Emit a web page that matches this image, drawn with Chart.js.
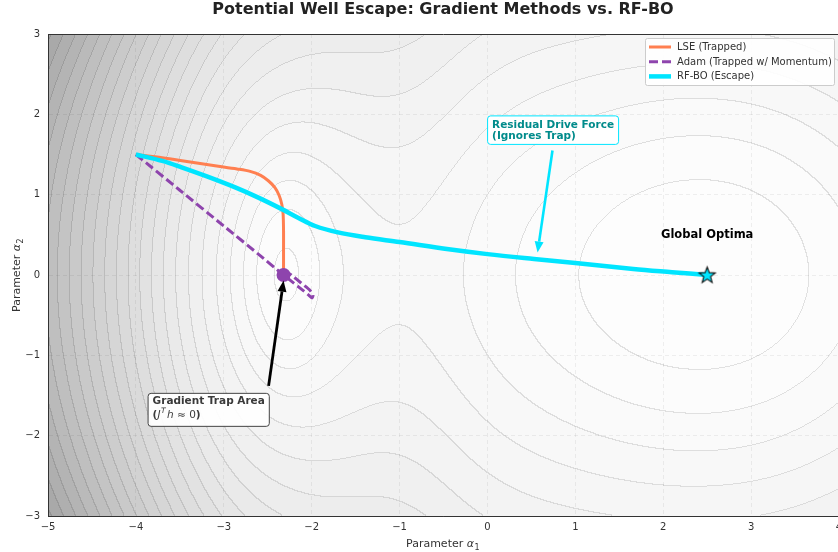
<!DOCTYPE html>
<html>
<head>
<meta charset="utf-8">
<script src="https://cdn.jsdelivr.net/npm/chart.js@4.4.1/dist/chart.umd.min.js"></script>
<style>
  html, body { margin: 0; padding: 0; background: #ffffff; overflow: hidden; width: 838px; height: 552px; }
  #wrap { width: 848px; height: 552px; position: relative; }
</style>
</head>
<body>
<div id="wrap"><canvas id="c" width="848" height="552"></canvas></div>
<script>
// ---------------- data ----------------
const seriesLabels = ["LSE (Trapped)", "Adam (Trapped w/ Momentum)", "RF-BO (Escape)"];

const lseX = [-4, -3.7, -3.4, -3.1, -2.85, -2.7, -2.58, -2.49, -2.42, -2.37, -2.34, -2.325, -2.32, -2.32, -2.32];
const lseY = [1.5, 1.46, 1.41, 1.36, 1.32, 1.29, 1.24, 1.17, 1.09, 0.99, 0.88, 0.76, 0.55, 0.3, 0.0];

const adamX = [-4, -3.5, -3.0, -2.6, -2.32, -2.15, -2.04, -1.995, -1.985, -2.02, -2.12, -2.22, -2.28, -2.32];
const adamY = [1.5, 1.055, 0.61, 0.254, 0.0, -0.147, -0.244, -0.285, -0.25, -0.19, -0.10, -0.01, 0.035, 0.0];

const rfboX = [-4, -3.7, -3.48, -3.2, -2.87, -2.6, -2.34, -2.15, -1.96, -1.7, -1.39, -1.0, -0.44, 0.0, 0.53, 1.0, 1.66, 2.1, 2.5];
const rfboY = [1.5, 1.42, 1.34, 1.23, 1.09, 0.96, 0.82, 0.71, 0.61, 0.53, 0.47, 0.41, 0.32, 0.26, 0.20, 0.15, 0.075, 0.035, 0.0];

const xTickValues = [-5, -4, -3, -2, -1, 0, 1, 2, 3, 4];
const yTickValues = [-3, -2, -1, 0, 1, 2, 3];

// background potential landscape (features): [cx, cy, amplitude, sx, sy]
const wells = [
  [2.5, 0.0, -0.45, 2.0, 2.0],    // global optimum basin
  [-2.32, 0.0, -0.22, 0.33, 0.9], // narrow local trap
  [-2.3, 0.0, -0.16, 1.0, 1.5],   // broad shoulder of the trap
  [-1.0, 0.0, 0.10, 0.6, 1e6]     // ridge / saddle between the basins
];
const contourStep = 0.1;

// annotations
const annGlobal = { text: "Global Optima", x: 2.5, y: 0.5 };
const annResidual = { lines: ["Residual Drive Force", "(Ignores Trap)"], x: 0.053, y: 1.80, from: [0.74, 1.55], to: [0.57, 0.28] };
const annTrap = { line1: "Gradient Trap Area", x: -3.81, y: -1.66, from: [-2.49, -1.38], to: [-2.32, -0.07] };

const COLORS = { lse: "#FF7F50", adam: "#8E44AD", rfbo: "#00E5FF" };
const FONT = "'DejaVu Sans', 'Liberation Sans', sans-serif";

// ---------------- helpers ----------------
const zip = (xs, ys) => xs.map((x, i) => ({ x: x, y: ys[i] }));
const sigm = z => 1 / (1 + Math.exp(-z));

function potential(x, y) {
  const k = 3, x0 = -3.0;
  let v = 0.72 * Math.log(1 + Math.exp(-(x - x0) * k)) / k;
  v += 0.08 * Math.log(1 + Math.exp((x - 3.5) * 2)) / 2;
  v += y * y * (0.02 + 0.03 * sigm(-(x + 2) * 1.5));
  for (const w of wells) {
    v += w[2] * Math.exp(-(((x - w[0]) ** 2) / (2 * w[3] * w[3]) + ((y - w[1]) ** 2) / (2 * w[4] * w[4])));
  }
  return v;
}

function makeStar(r) {
  const c = document.createElement("canvas");
  const s = Math.ceil(r * 2 + 4);
  c.width = s; c.height = s;
  const g = c.getContext("2d");
  const cx = s / 2, cy = s / 2 + 0.5;
  g.beginPath();
  for (let i = 0; i < 10; i++) {
    const a = -Math.PI / 2 + i * Math.PI / 5;
    const rr = i % 2 === 0 ? r : r * 0.42;
    const px = cx + rr * Math.cos(a), py = cy + rr * Math.sin(a);
    if (i === 0) g.moveTo(px, py); else g.lineTo(px, py);
  }
  g.closePath();
  g.fillStyle = COLORS.rfbo;
  g.fill();
  g.lineWidth = 1.1;
  g.strokeStyle = "#111";
  g.stroke();
  return c;
}
const starImg = makeStar(8.5);

// ---------------- plugins ----------------
let bgCache = null;
const contourPlugin = {
  id: "contourBg",
  beforeDraw(chart) {
    const { ctx, chartArea: a, scales } = chart;
    const w = Math.round(a.right - a.left), h = Math.round(a.bottom - a.top);
    if (!bgCache || bgCache.w !== w || bgCache.h !== h) {
      const vals = new Float32Array(w * h);
      let vmin = Infinity, vmax = -Infinity;
      for (let j = 0; j < h; j++) {
        const yv = scales.y.getValueForPixel(a.top + j + 0.5);
        for (let i = 0; i < w; i++) {
          const xv = scales.x.getValueForPixel(a.left + i + 0.5);
          const v = potential(xv, yv);
          vals[j * w + i] = v;
          if (v < vmin) vmin = v;
          if (v > vmax) vmax = v;
        }
      }
      const lev = new Int16Array(w * h);
      const nLev = Math.ceil((vmax - vmin) / contourStep);
      for (let k = 0; k < w * h; k++) lev[k] = Math.floor((vals[k] - vmin) / contourStep);
      const off = document.createElement("canvas");
      off.width = w; off.height = h;
      const octx = off.getContext("2d");
      const img = octx.createImageData(w, h);
      for (let j = 0; j < h; j++) {
        for (let i = 0; i < w; i++) {
          const k = j * w + i;
          const t = Math.min(1, (lev[k] + 0.5) / nLev);
          let gcol = 253 - 92 * Math.pow(t, 1.5);
          const L = lev[k];
          const edge = (i + 1 < w && lev[k + 1] !== L) || (j + 1 < h && lev[k + w] !== L);
          if (edge) gcol = gcol * 0.89;
          img.data[k * 4] = gcol; img.data[k * 4 + 1] = gcol; img.data[k * 4 + 2] = gcol; img.data[k * 4 + 3] = 255;
        }
      }
      octx.putImageData(img, 0, 0);
      bgCache = { w, h, off };
    }
    ctx.save();
    ctx.drawImage(bgCache.off, a.left, a.top);
    ctx.restore();
  }
};

function roundRect(ctx, x, y, w, h, r) {
  ctx.beginPath();
  ctx.moveTo(x + r, y);
  ctx.lineTo(x + w - r, y);
  ctx.quadraticCurveTo(x + w, y, x + w, y + r);
  ctx.lineTo(x + w, y + h - r);
  ctx.quadraticCurveTo(x + w, y + h, x + w - r, y + h);
  ctx.lineTo(x + r, y + h);
  ctx.quadraticCurveTo(x, y + h, x, y + h - r);
  ctx.lineTo(x, y + r);
  ctx.quadraticCurveTo(x, y, x + r, y);
  ctx.closePath();
}

function arrow(ctx, x1, y1, x2, y2, color, lw, headLen, headW) {
  const ang = Math.atan2(y2 - y1, x2 - x1);
  const bx = x2 - headLen * Math.cos(ang), by = y2 - headLen * Math.sin(ang);
  ctx.save();
  ctx.strokeStyle = color; ctx.fillStyle = color; ctx.lineWidth = lw; ctx.lineCap = "butt";
  ctx.beginPath(); ctx.moveTo(x1, y1); ctx.lineTo(bx, by); ctx.stroke();
  ctx.beginPath();
  ctx.moveTo(x2, y2);
  ctx.lineTo(bx + headW / 2 * Math.sin(ang), by - headW / 2 * Math.cos(ang));
  ctx.lineTo(bx - headW / 2 * Math.sin(ang), by + headW / 2 * Math.cos(ang));
  ctx.closePath(); ctx.fill();
  ctx.restore();
}

const overlayPlugin = {
  id: "overlay",
  afterDatasetsDraw(chart) {
    const { ctx, scales, chartArea: a } = chart;
    const px = v => scales.x.getPixelForValue(v), py = v => scales.y.getPixelForValue(v);
    ctx.save();
    // top spine
    ctx.strokeStyle = "#333"; ctx.lineWidth = 1;
    ctx.beginPath(); ctx.moveTo(a.left, a.top + 0.5); ctx.lineTo(a.right, a.top + 0.5); ctx.stroke();

    // arrows
    arrow(ctx, px(annResidual.from[0]), py(annResidual.from[1]), px(annResidual.to[0]), py(annResidual.to[1]), COLORS.rfbo, 2.6, 11, 9);
    arrow(ctx, px(annTrap.from[0]), py(annTrap.from[1]), px(annTrap.to[0]), py(annTrap.to[1]), "#000", 2.8, 11, 9);

    // Global optima label
    ctx.font = "bold 11.5px " + FONT;
    ctx.fillStyle = "#000"; ctx.textAlign = "center"; ctx.textBaseline = "middle";
    ctx.fillText(annGlobal.text, px(annGlobal.x), py(annGlobal.y));

    // residual box
    ctx.font = "bold 10.5px " + FONT;
    ctx.textAlign = "left"; ctx.textBaseline = "middle";
    let lx = px(annResidual.x), cy = py(annResidual.y);
    let wmax = Math.max(...annResidual.lines.map(s => ctx.measureText(s).width));
    roundRect(ctx, lx - 4.5, cy - 14.5, wmax + 9, 28.5, 3);
    ctx.fillStyle = "rgba(255,255,255,0.92)"; ctx.fill();
    ctx.strokeStyle = COLORS.rfbo; ctx.lineWidth = 1; ctx.stroke();
    ctx.fillStyle = "#008B8B";
    ctx.fillText(annResidual.lines[0], lx, cy - 5.5);
    ctx.fillText(annResidual.lines[1], lx, cy + 6);

    // gradient trap box
    lx = px(annTrap.x); cy = py(annTrap.y);
    ctx.font = "bold 10.5px " + FONT;
    const w1 = ctx.measureText(annTrap.line1).width;
    roundRect(ctx, lx - 4.5, cy - 15, w1 + 9, 33, 3);
    ctx.fillStyle = "rgba(255,255,255,0.92)"; ctx.fill();
    ctx.strokeStyle = "#444"; ctx.lineWidth = 1; ctx.stroke();
    ctx.fillStyle = "#3a3a3a";
    ctx.fillText(annTrap.line1, lx, cy - 7);
    // second line: (J^T h ≈ 0)
    let x = lx, y2 = cy + 7;
    ctx.font = "bold 10.5px " + FONT; ctx.fillText("(", x, y2); x += ctx.measureText("(").width;
    ctx.font = "italic 10.5px " + FONT; ctx.fillText("J", x, y2); x += ctx.measureText("J").width + 0.5;
    ctx.font = "italic 7.5px " + FONT; ctx.fillText("T", x, y2 - 4); x += ctx.measureText("T").width + 1.5;
    ctx.font = "italic 10.5px " + FONT; ctx.fillText("h", x, y2); x += ctx.measureText("h").width;
    ctx.font = "10.5px " + FONT; ctx.fillText(" \u2248 0", x, y2); x += ctx.measureText(" \u2248 0").width;
    ctx.font = "bold 10.5px " + FONT; ctx.fillText(")", x, y2);

    // legend
    const lg = { x: 645.5, y: 38.5, w: 189, h: 47 };
    roundRect(ctx, lg.x, lg.y, lg.w, lg.h, 2);
    ctx.fillStyle = "rgba(255,255,255,0.9)"; ctx.fill();
    ctx.strokeStyle = "#cccccc"; ctx.lineWidth = 1; ctx.stroke();
    const rows = [
      { c: COLORS.lse, w: 3, dash: [] },
      { c: COLORS.adam, w: 3, dash: [9, 4] },
      { c: COLORS.rfbo, w: 4.5, dash: [] }
    ];
    ctx.font = "10px " + FONT; ctx.textBaseline = "middle"; ctx.textAlign = "left";
    rows.forEach((r, i) => {
      const ry = 47 + i * 14.7;
      ctx.strokeStyle = r.c; ctx.lineWidth = r.w; ctx.setLineDash(r.dash);
      ctx.beginPath(); ctx.moveTo(649, ry); ctx.lineTo(671, ry); ctx.stroke();
      ctx.setLineDash([]);
      ctx.fillStyle = "#333";
      ctx.fillText(seriesLabels[i], 677, ry + 0.5);
    });

    ctx.restore();
  },
  afterDraw(chart) {
    const { ctx } = chart;
    ctx.save();
    ctx.fillStyle = "#222";
    ctx.textAlign = "center"; ctx.textBaseline = "middle";
    ctx.font = "bold 16px " + FONT;
    ctx.fillText("Potential Well Escape: Gradient Methods vs. RF-BO", 443, 10);
    // x axis title
    ctx.font = "11px " + FONT; ctx.fillStyle = "#333";
    ctx.textBaseline = "alphabetic";
    const t1 = "Parameter ", sym = "\u03B1";
    let tw = ctx.measureText(t1).width;
    ctx.font = "italic 11px " + FONT; let sw = ctx.measureText(sym).width;
    const total = tw + sw + 6;
    let sx = 443 - total / 2;
    ctx.font = "11px " + FONT; ctx.textAlign = "left";
    ctx.fillText(t1, sx, 547);
    ctx.font = "italic 11px " + FONT; ctx.fillText(sym, sx + tw, 547);
    ctx.font = "8px " + FONT; ctx.fillText("1", sx + tw + sw + 0.5, 549.5);
    // y axis title
    ctx.translate(20, 275);
    ctx.rotate(-Math.PI / 2);
    ctx.font = "11px " + FONT;
    sx = -total / 2;
    ctx.fillText(t1, sx, 0);
    ctx.font = "italic 11px " + FONT; ctx.fillText(sym, sx + tw, 0);
    ctx.font = "8px " + FONT; ctx.fillText("2", sx + tw + sw + 0.5, 2.5);
    ctx.restore();
  }
};

// ---------------- chart ----------------
const lastBig = (n, r) => ctx => (ctx.dataIndex === n - 1 ? r : 0);

new Chart(document.getElementById("c"), {
  type: "scatter",
  data: {
    datasets: [
      {
        label: seriesLabels[0], data: zip(lseX, lseY), showLine: true,
        borderColor: COLORS.lse, backgroundColor: COLORS.lse, borderWidth: 3, tension: 0.3,
        pointRadius: lastBig(lseX.length, 6), pointBorderWidth: 0, order: 3
      },
      {
        label: seriesLabels[1], data: zip(adamX, adamY), showLine: true,
        borderColor: COLORS.adam, backgroundColor: COLORS.adam, borderWidth: 3, borderDash: [9, 4], tension: 0.2,
        pointRadius: lastBig(adamX.length, 7), pointBorderWidth: 0, order: 2
      },
      {
        label: seriesLabels[2], data: zip(rfboX, rfboY), showLine: true,
        borderColor: COLORS.rfbo, backgroundColor: COLORS.rfbo, borderWidth: 4.5, tension: 0.35,
        pointRadius: lastBig(rfboX.length, 9), pointStyle: ctx => (ctx.dataIndex === rfboX.length - 1 ? starImg : "circle"),
        pointBorderWidth: 0, order: 1
      }
    ]
  },
  options: {
    responsive: false,
    animation: false,
    events: [],
    layout: { padding: { top: 34, left: 0, right: 0, bottom: 0 } },
    plugins: { legend: { display: false }, tooltip: { enabled: false }, title: { display: false } },
    scales: {
      x: {
        type: "linear", min: -5, max: 4,
        afterBuildTicks: s => { s.ticks = xTickValues.map(v => ({ value: v })); },
        afterFit: s => { s.height = 36; s.paddingLeft = 0; s.paddingRight = 0; },
        ticks: {
          padding: 5, color: "#333", font: { family: FONT, size: 10 },
          maxRotation: 0, autoSkip: false,
          callback: v => (v < 0 ? "\u2212" + Math.abs(v) : String(v))
        },
        grid: { color: "rgba(0,0,0,0.08)", lineWidth: 0.8, drawTicks: false },
        border: { display: true, color: "#333", width: 1, dash: [4, 3] }
      },
      y: {
        type: "linear", min: -3, max: 3,
        afterBuildTicks: s => { s.ticks = yTickValues.map(v => ({ value: v })); },
        afterFit: s => { s.width = 48; s.paddingTop = 0; s.paddingBottom = 0; },
        ticks: {
          padding: 8, color: "#333", font: { family: FONT, size: 10 },
          autoSkip: false,
          callback: v => (v < 0 ? "\u2212" + Math.abs(v) : String(v))
        },
        grid: { color: "rgba(0,0,0,0.08)", lineWidth: 0.8, drawTicks: false },
        border: { display: true, color: "#333", width: 1, dash: [4, 3] }
      }
    }
  },
  plugins: [contourPlugin, overlayPlugin]
});
</script>
</body>
</html>
